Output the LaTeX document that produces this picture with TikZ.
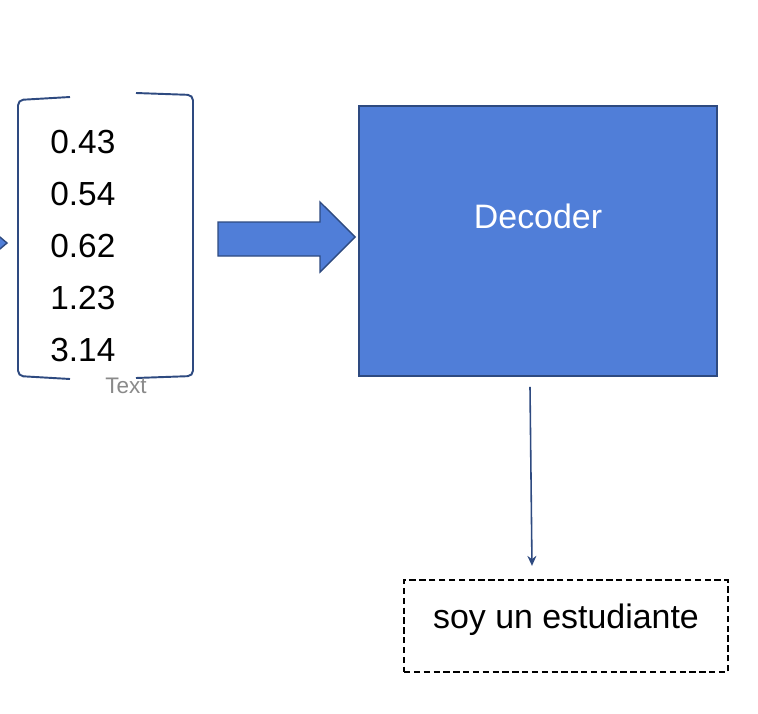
\documentclass[tikz,border=0pt]{standalone}
\usepackage{fontspec}
\setmainfont{Liberation Sans}
\usetikzlibrary{positioning,calc,arrows.meta}
\definecolor{decblue}{RGB}{80,126,216}
\definecolor{edgeblue}{RGB}{46,74,128}
\definecolor{lblgray}{RGB}{138,138,138}
\begin{document}
\begin{tikzpicture}[x=0.02cm, y=-0.02cm,
    num/.style={font=\fontsize{19}{22}\selectfont, anchor=base west, inner sep=0pt},
    lbl/.style={font=\fontsize{12.8}{15}\selectfont, text=lblgray, anchor=base, inner sep=0pt},
    brk/.style={draw=edgeblue, line width=1.1pt, rounded corners=3pt},
    decbox/.style={draw=edgeblue, line width=1.1pt, fill=decblue, minimum width=7.16cm, minimum height=5.4cm, inner sep=0pt},
    declbl/.style={font=\fontsize{19.3}{22}\selectfont, text=white, anchor=base, inner sep=0pt},
    outbox/.style={draw, line width=1.3pt, dash pattern=on 3.6pt off 2pt, minimum width=6.48cm, minimum height=1.84cm, inner sep=0pt},
    outlbl/.style={font=\fontsize{19.3}{22}\selectfont, anchor=base, inner sep=0pt},
    blockarr/.style={draw=edgeblue, line width=0.8pt, fill=decblue, line join=miter},
    arr/.style={-{Stealth[length=2mm, width=1.8mm]}, draw=edgeblue, line width=0.9pt},
  ]
    \useasboundingbox (0,0) rectangle (758,714);

    % tip of the incoming arrow, cut by the left edge
    \draw[blockarr] (-6,232) -- (7,243) -- (-6,254) -- cycle;

    % === vector ===
    \foreach \r/\val in {0/0.43, 1/0.54, 2/0.62, 3/1.23, 4/3.14} {
      \node[num] (v\r) at (50, 153+\r*52) {\val};
    }
    \draw[brk] (70,97) -- (18,100) -- (18,376) -- (70,379);
    \draw[brk] (136,93) -- (193,95) -- (193,376) -- (136,378);
    \node[lbl] (vlbl) at (126,393) {Text};

    % === decoder ===
    \node[decbox] (dec) at (538,241) {};
    \node[declbl] (dectxt) at (538,228) {Decoder};

    % block arrow into the decoder
    \draw[blockarr] (218,222) -- (320,222) -- (320,202) -- ($(dec.west |- 0,237)+(-3,0)$)
      -- (320,272) -- (320,256) -- (218,256) -- cycle;

    % === output ===
    \node[outbox] (out) at (566,626) {};
    \node[outlbl] (outtxt) at (566,628) {soy un estudiante};

    \draw[arr] ($(dec.south)+(-8,10)$) -- ($(out.north)+(-34,-13)$);
\end{tikzpicture}
\end{document}
